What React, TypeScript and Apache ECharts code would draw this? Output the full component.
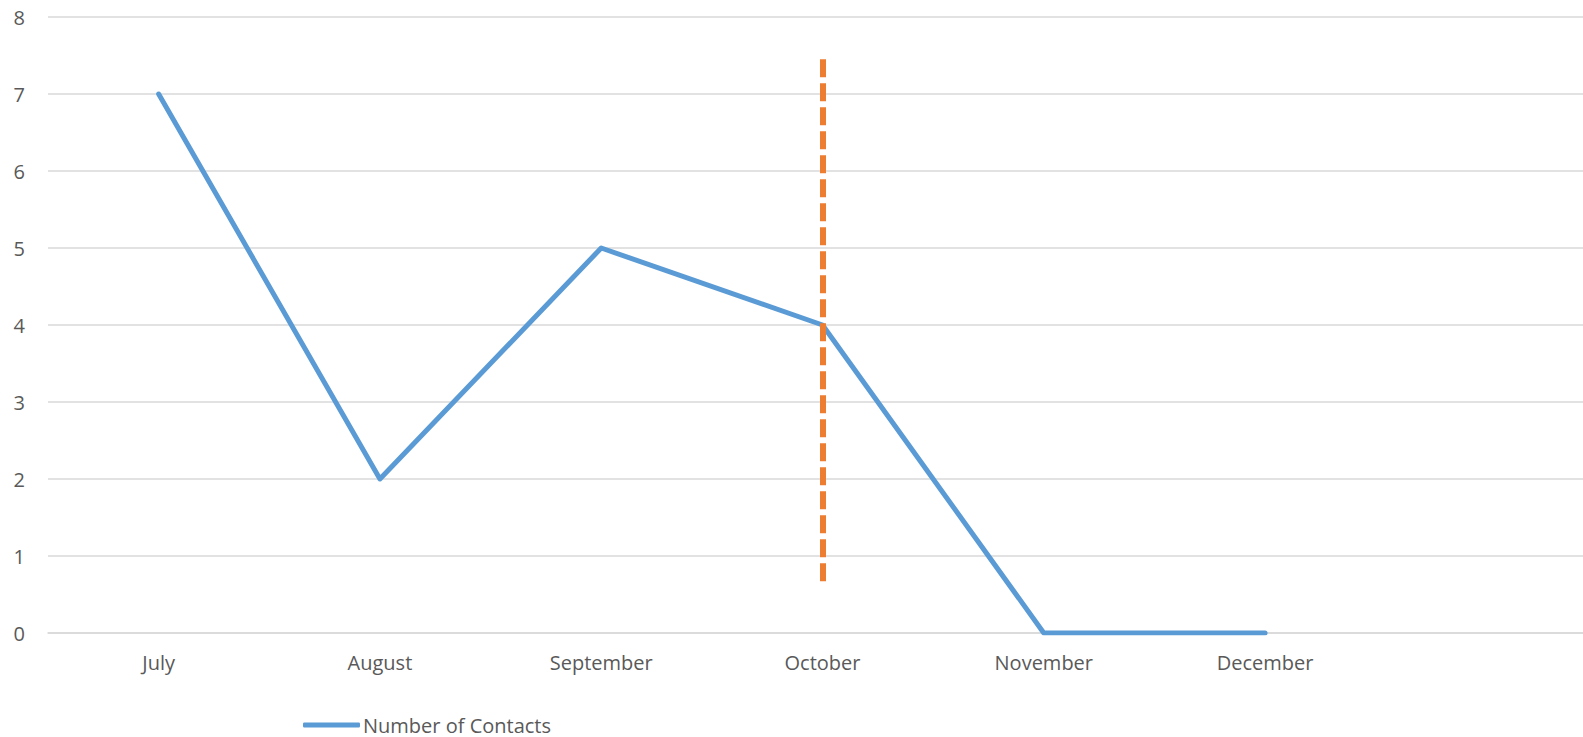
import React, { useEffect, useRef } from "react";
import * as echarts from "echarts";

const categories = ["July", "August", "September", "October", "November", "December", ""];
const contacts: (number | null)[] = [7, 2, 5, 4, 0, 0, null];
const yTicks = { min: 0, max: 8, interval: 1 };
const markerCategory = "October";
const markerRange = [7.45, 0.66];

export default function App() {
  const ref = useRef<HTMLDivElement>(null);
  useEffect(() => {
    if (!ref.current) return;
    const chart = echarts.init(ref.current, undefined, { renderer: "svg" });
    const font = "'Open Sans', 'Noto Sans', sans-serif";
    chart.setOption({
      animation: false,
      grid: { left: 48, right: 0, top: 17, bottom: 104, containLabel: false },
      legend: {
        left: 303,
        top: 715,
        padding: 0,
        data: [{ name: "Number of Contacts", icon: "roundRect" }],
        itemWidth: 57,
        itemHeight: 5,
        itemGap: 10,
        textStyle: {
          color: "#595959",
          fontSize: 20,
          lineHeight: 20,
          fontFamily: font,
          padding: [0, 0, 0, -2],
        },
      },
      xAxis: {
        type: "category",
        data: categories,
        boundaryGap: true,
        axisLine: { show: true, lineStyle: { color: "#d9d9d9", width: 1.5 } },
        axisTick: { show: false },
        axisLabel: { color: "#595959", fontSize: 20, fontFamily: font, margin: 19, interval: 0 },
      },
      yAxis: {
        type: "value",
        min: yTicks.min,
        max: yTicks.max,
        interval: yTicks.interval,
        axisLine: { show: false },
        axisTick: { show: false },
        axisLabel: { color: "#595959", fontSize: 20, fontFamily: font, margin: 23 },
        splitLine: { lineStyle: { color: "#d9d9d9", width: 1.5 } },
      },
      series: [
        {
          name: "Number of Contacts",
          type: "line",
          data: contacts,
          symbol: "none",
          lineStyle: { color: "#5b9bd5", width: 5, cap: "round", join: "round" },
          itemStyle: { color: "#5b9bd5" },
          markLine: {
            silent: true,
            symbol: ["none", "none"],
            label: { show: false },
            lineStyle: { color: "#ed7d31", width: 6, type: [18, 6], cap: "butt" },
            data: [
              [
                { coord: [markerCategory, markerRange[0]] },
                { coord: [markerCategory, markerRange[1]] },
              ],
            ],
          },
        },
      ],
    });
    return () => chart.dispose();
  }, []);
  return (
    <div
      style={{
        position: "absolute",
        left: 0,
        top: 0,
        width: 1583,
        height: 737,
        overflow: "hidden",
        background: "#fff",
      }}
    >
      <div ref={ref} style={{ width: 1597, height: 737 }} />
    </div>
  );
}
